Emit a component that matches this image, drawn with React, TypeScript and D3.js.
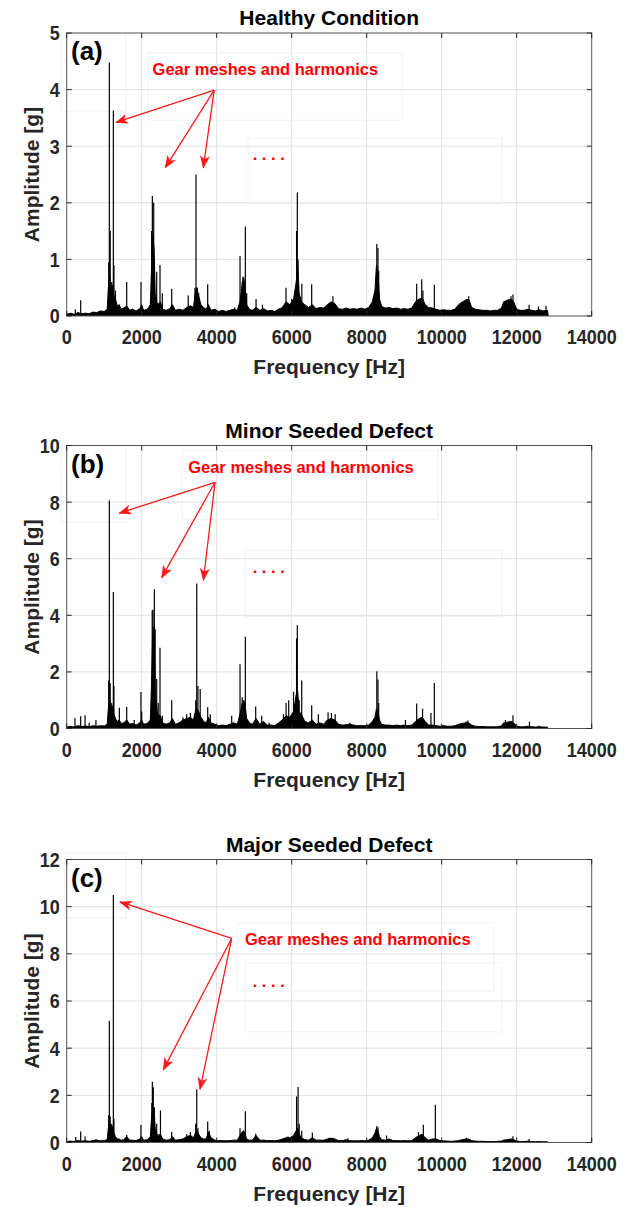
import React from 'react'
import * as d3 from 'd3'

// axes
const freqTicks = [0, 2000, 4000, 6000, 8000, 10000, 12000, 14000]
const panelTitles = ['Healthy Condition', 'Minor Seeded Defect', 'Major Seeded Defect']
const panelTags = ['(a)', '(b)', '(c)']
const ampMax = [5, 10, 12]
const ampTicks = [
	[0, 1, 2, 3, 4, 5],
	[0, 2, 4, 6, 8, 10],
	[0, 2, 4, 6, 8, 10, 12],
]

// spectrum: [frequency Hz, amplitude g]
// "floor" = the dense black base, "peaks" = the single lines above it
const healthyFloor = [
	[0, 0.03], [100, 0.05], [200, 0.03], [300, 0.06], [400, 0.04], [500, 0.05], [600, 0.04], [700, 0.07], [800, 0.06],
	[900, 0.09], [1000, 0.08], [1080, 0.12], [1110, 0.5], [1150, 0.7], [1180, 0.45], [1220, 0.55], [1260, 0.35], [1300, 0.3],
	[1350, 0.18], [1400, 0.2], [1450, 0.12], [1520, 0.14], [1600, 0.18], [1680, 0.1], [1750, 0.12], [1850, 0.09], [1950, 0.13],
	[2000, 0.2], [2050, 0.1], [2150, 0.12], [2230, 0.2], [2260, 0.8], [2290, 1.4], [2330, 1.2], [2360, 0.4], [2420, 0.2],
	[2500, 0.25], [2560, 0.12], [2650, 0.1], [2750, 0.13], [2820, 0.2], [2900, 0.1], [3000, 0.12], [3100, 0.1], [3200, 0.15],
	[3300, 0.18], [3380, 0.15], [3430, 0.4], [3470, 0.5], [3520, 0.35], [3580, 0.2], [3650, 0.15], [3720, 0.12], [3780, 0.2],
	[3850, 0.1], [3950, 0.12], [4050, 0.08], [4150, 0.1], [4250, 0.08], [4350, 0.1], [4450, 0.12], [4550, 0.1], [4620, 0.25],
	[4680, 0.55], [4720, 0.68], [4760, 0.5], [4800, 0.2], [4870, 0.12], [4950, 0.1], [5050, 0.15], [5150, 0.1], [5250, 0.13],
	[5350, 0.09], [5450, 0.1], [5550, 0.08], [5650, 0.12], [5750, 0.15], [5850, 0.25], [5950, 0.2], [6050, 0.3], [6120, 0.6],
	[6160, 0.9], [6200, 0.4], [6260, 0.25], [6350, 0.2], [6450, 0.15], [6550, 0.2], [6650, 0.13], [6750, 0.15], [6850, 0.14],
	[6950, 0.2], [7050, 0.25], [7150, 0.22], [7250, 0.13], [7350, 0.12], [7450, 0.14], [7550, 0.12], [7650, 0.13], [7750, 0.12],
	[7850, 0.14], [7950, 0.12], [8050, 0.15], [8150, 0.25], [8220, 0.45], [8260, 0.9], [8300, 0.8], [8340, 0.3], [8400, 0.17],
	[8500, 0.14], [8600, 0.15], [8700, 0.13], [8800, 0.14], [8900, 0.12], [9000, 0.13], [9100, 0.12], [9200, 0.14], [9300, 0.25],
	[9400, 0.3], [9480, 0.32], [9560, 0.2], [9650, 0.15], [9750, 0.14], [9850, 0.12], [9950, 0.1], [10050, 0.11], [10150, 0.1],
	[10250, 0.1], [10350, 0.12], [10450, 0.2], [10550, 0.25], [10650, 0.28], [10720, 0.3], [10800, 0.15], [10900, 0.12],
	[11000, 0.11], [11100, 0.1], [11200, 0.1], [11300, 0.09], [11400, 0.1], [11500, 0.1], [11600, 0.15], [11650, 0.25],
	[11750, 0.28], [11850, 0.3], [11920, 0.25], [12000, 0.12], [12100, 0.1], [12200, 0.1], [12300, 0.12], [12400, 0.1],
	[12500, 0.09], [12600, 0.11], [12700, 0.09], [12820, 0.1], [12840, 0],
]
const healthyPeaks = [
	[230, 0.12], [373, 0.28], [1120, 0.95], [1137, 4.48], [1160, 1.5], [1200, 0.6], [1244, 3.63], [1260, 0.9], [1300, 0.45],
	[1600, 0.6], [1981, 0.6], [2265, 1.5], [2284, 2.12], [2310, 1.44], [2320, 2.0], [2340, 1.0], [2400, 0.78], [2488, 0.9],
	[2550, 0.4], [2800, 0.48], [3240, 0.36], [3420, 0.5], [3448, 2.5], [3480, 0.5], [3520, 0.4], [3760, 0.56], [4480, 0.15],
	[4622, 1.06], [4680, 0.6], [4700, 0.7], [4764, 1.58], [4800, 0.4], [5050, 0.3], [5220, 0.2], [5848, 0.5], [6000, 0.3],
	[6130, 1.5], [6150, 2.18], [6170, 1.0], [6270, 0.57], [6533, 0.56], [7100, 0.35], [8270, 1.27], [8300, 1.2], [8320, 0.8],
	[9333, 0.57], [9467, 0.65], [9500, 0.45], [9803, 0.55], [10650, 0.3], [10720, 0.35], [11850, 0.35], [11900, 0.38],
	[12330, 0.2], [12580, 0.17], [12780, 0.18],
]

const minorFloor = [
	[0, 0.05], [100, 0.08], [200, 0.05], [300, 0.1], [400, 0.07], [500, 0.09], [600, 0.06], [700, 0.1], [800, 0.08],
	[900, 0.1], [1000, 0.09], [1080, 0.15], [1110, 0.7], [1150, 1.0], [1180, 0.7], [1220, 0.8], [1260, 0.5], [1300, 0.35],
	[1350, 0.25], [1400, 0.3], [1450, 0.18], [1520, 0.2], [1600, 0.3], [1680, 0.15], [1750, 0.18], [1850, 0.12], [1950, 0.2],
	[2000, 0.3], [2050, 0.15], [2150, 0.18], [2230, 0.3], [2260, 1.5], [2290, 3.2], [2330, 3.6], [2360, 1.2], [2420, 0.5],
	[2500, 0.45], [2560, 0.2], [2650, 0.15], [2750, 0.2], [2820, 0.35], [2900, 0.15], [3000, 0.2], [3100, 0.3], [3200, 0.35],
	[3300, 0.4], [3380, 0.3], [3430, 0.6], [3470, 0.7], [3520, 0.6], [3580, 0.4], [3650, 0.25], [3720, 0.2], [3780, 0.4],
	[3850, 0.2], [3950, 0.15], [4050, 0.1], [4150, 0.12], [4250, 0.1], [4350, 0.15], [4450, 0.2], [4550, 0.15], [4620, 0.5],
	[4680, 0.9], [4720, 1.0], [4760, 0.8], [4800, 0.35], [4870, 0.2], [4950, 0.15], [5050, 0.35], [5150, 0.15], [5250, 0.25],
	[5350, 0.12], [5450, 0.12], [5550, 0.1], [5650, 0.2], [5750, 0.3], [5850, 0.45], [5950, 0.4], [6050, 0.6], [6120, 1.2],
	[6160, 1.3], [6200, 0.6], [6260, 0.5], [6350, 0.25], [6450, 0.2], [6550, 0.3], [6650, 0.15], [6750, 0.2], [6850, 0.15],
	[6950, 0.3], [7050, 0.35], [7150, 0.3], [7250, 0.15], [7350, 0.12], [7450, 0.13], [7550, 0.15], [7650, 0.12], [7750, 0.1],
	[7850, 0.1], [7950, 0.1], [8050, 0.12], [8150, 0.25], [8220, 0.4], [8260, 0.7], [8300, 0.6], [8340, 0.3], [8400, 0.15],
	[8500, 0.12], [8600, 0.12], [8700, 0.1], [8800, 0.12], [8900, 0.1], [9000, 0.12], [9100, 0.1], [9200, 0.12], [9300, 0.25],
	[9400, 0.35], [9480, 0.4], [9560, 0.25], [9650, 0.12], [9750, 0.12], [9850, 0.1], [9950, 0.08], [10050, 0.1], [10150, 0.08],
	[10250, 0.08], [10350, 0.1], [10450, 0.15], [10550, 0.18], [10650, 0.2], [10720, 0.2], [10800, 0.12], [10900, 0.08],
	[11000, 0.07], [11100, 0.07], [11200, 0.06], [11300, 0.06], [11400, 0.06], [11500, 0.06], [11600, 0.1], [11650, 0.2],
	[11750, 0.22], [11850, 0.25], [11920, 0.2], [12000, 0.08], [12100, 0.06], [12200, 0.06], [12300, 0.08], [12400, 0.06],
	[12500, 0.05], [12600, 0.06], [12700, 0.05], [12820, 0.05], [12840, 0],
]
const minorPeaks = [
	[221, 0.37], [373, 0.43], [490, 0.47], [600, 0.2], [780, 0.3], [1120, 1.7], [1137, 8.06], [1160, 1.6], [1200, 0.9],
	[1244, 4.82], [1260, 1.5], [1404, 0.73], [1600, 0.76], [1800, 0.3], [1980, 1.29], [2000, 0.6], [2280, 4.18], [2300, 4.2],
	[2337, 4.92], [2360, 3.5], [2400, 1.75], [2440, 0.9], [2488, 2.85], [2550, 0.45], [2800, 1.0], [3100, 0.4], [3200, 0.5],
	[3300, 0.55], [3440, 1.0], [3467, 5.12], [3500, 1.5], [3560, 1.4], [3760, 0.75], [3830, 0.5], [4400, 0.45], [4622, 2.27],
	[4680, 1.1], [4720, 1.0], [4764, 3.24], [5040, 0.78], [5200, 0.45], [5400, 0.2], [5780, 0.5], [5850, 0.9], [5920, 1.0],
	[6050, 1.3], [6130, 3.18], [6150, 3.65], [6200, 1.0], [6267, 1.7], [6533, 0.82], [6710, 0.5], [6970, 0.57], [7060, 0.55],
	[7160, 0.5], [7550, 0.2], [8270, 2.02], [8300, 1.73], [8320, 0.9], [9033, 0.3], [9333, 0.88], [9490, 0.7], [9713, 0.55],
	[9803, 1.61], [10650, 0.25], [10700, 0.28], [11700, 0.3], [11900, 0.47], [12340, 0.25], [12600, 0.1],
]

const majorFloor = [
	[0, 0.04], [100, 0.06], [200, 0.04], [300, 0.08], [400, 0.06], [500, 0.07], [600, 0.05], [700, 0.08], [800, 0.1],
	[900, 0.07], [1000, 0.08], [1080, 0.12], [1110, 0.6], [1150, 0.8], [1180, 0.6], [1220, 0.7], [1260, 0.4], [1300, 0.25],
	[1350, 0.15], [1400, 0.15], [1450, 0.1], [1520, 0.12], [1600, 0.25], [1680, 0.1], [1750, 0.1], [1850, 0.08], [1950, 0.15],
	[2000, 0.25], [2050, 0.1], [2150, 0.12], [2230, 0.25], [2260, 1.0], [2290, 1.5], [2330, 1.4], [2360, 0.6], [2420, 0.3],
	[2500, 0.35], [2560, 0.15], [2650, 0.1], [2750, 0.12], [2820, 0.25], [2900, 0.1], [3000, 0.12], [3100, 0.15], [3200, 0.25],
	[3300, 0.3], [3380, 0.2], [3430, 0.4], [3470, 0.5], [3520, 0.35], [3580, 0.2], [3650, 0.15], [3720, 0.15], [3780, 0.45],
	[3850, 0.2], [3950, 0.1], [4050, 0.08], [4150, 0.08], [4250, 0.07], [4350, 0.08], [4450, 0.1], [4550, 0.1], [4620, 0.3],
	[4680, 0.45], [4720, 0.5], [4760, 0.35], [4800, 0.15], [4870, 0.1], [4950, 0.1], [5050, 0.3], [5150, 0.1], [5250, 0.1],
	[5350, 0.08], [5450, 0.08], [5550, 0.07], [5650, 0.1], [5750, 0.15], [5850, 0.2], [5950, 0.2], [6050, 0.3], [6120, 0.5],
	[6160, 0.6], [6200, 0.35], [6260, 0.2], [6350, 0.12], [6450, 0.1], [6550, 0.2], [6650, 0.1], [6750, 0.1], [6850, 0.1],
	[6950, 0.15], [7050, 0.18], [7150, 0.15], [7250, 0.08], [7350, 0.08], [7450, 0.12], [7550, 0.08], [7650, 0.07], [7750, 0.07],
	[7850, 0.08], [7950, 0.07], [8050, 0.1], [8150, 0.2], [8220, 0.4], [8260, 0.6], [8300, 0.5], [8340, 0.25], [8400, 0.12],
	[8500, 0.1], [8600, 0.15], [8700, 0.08], [8800, 0.08], [8900, 0.07], [9000, 0.08], [9100, 0.07], [9200, 0.08], [9300, 0.2],
	[9400, 0.3], [9480, 0.35], [9560, 0.2], [9650, 0.1], [9750, 0.15], [9850, 0.15], [9950, 0.08], [10050, 0.07], [10150, 0.06],
	[10250, 0.05], [10350, 0.06], [10450, 0.08], [10550, 0.12], [10650, 0.15], [10720, 0.15], [10800, 0.08], [10900, 0.06],
	[11000, 0.05], [11100, 0.05], [11200, 0.04], [11300, 0.04], [11400, 0.04], [11500, 0.05], [11600, 0.06], [11650, 0.1],
	[11750, 0.12], [11850, 0.15], [11920, 0.12], [12000, 0.06], [12100, 0.04], [12200, 0.04], [12300, 0.06], [12400, 0.04],
	[12500, 0.03], [12600, 0.04], [12700, 0.03], [12820, 0.03], [12840, 0],
]
const majorPeaks = [
	[240, 0.23], [373, 0.47], [490, 0.25], [780, 0.15], [1120, 1.17], [1137, 5.16], [1160, 1.1], [1200, 0.8], [1244, 10.5],
	[1260, 1.0], [1600, 0.33], [1980, 0.75], [2270, 1.67], [2284, 2.58], [2310, 2.34], [2340, 1.5], [2400, 0.8], [2500, 1.36],
	[2800, 0.45], [3200, 0.35], [3300, 0.45], [3440, 0.8], [3467, 2.26], [3500, 0.6], [3760, 0.89], [3800, 0.5], [4622, 0.6],
	[4700, 0.4], [4764, 1.32], [5040, 0.37], [5900, 0.25], [6130, 1.95], [6170, 2.35], [6200, 0.8], [6267, 0.5], [6550, 0.42],
	[7000, 0.2], [7100, 0.2], [7500, 0.18], [8270, 0.7], [8300, 0.65], [8530, 0.3], [9380, 0.45], [9510, 0.75], [9830, 1.6],
	[10660, 0.2], [11900, 0.27], [12330, 0.15],
]

const floors = [healthyFloor, minorFloor, majorFloor]
const peaks = [healthyPeaks, minorPeaks, majorPeaks]

// annotations, in data units of each panel
const noteLabel = 'Gear meshes and harmonics'
const noteAt = [[2290, 4.36], [3240, 9.25], [4755, 8.62]]
const arrowFrom = [[3933, 3.99], [3955, 8.7], [4400, 8.66]]
const arrowTo = [
	[[1315, 3.42], [2629, 2.62], [3643, 2.62]],
	[[1403, 7.61], [2533, 5.33], [3645, 5.24]],
	[[1421, 10.2], [2576, 3.08], [3555, 2.26]],
]
const dotsAt = [[4960, 2.79], [4960, 5.55], [4960, 6.68]]
// faint text-box outlines left in the figure: [f0, a0, f1, a1]
const ghostBoxes = [
	[[-150, 5, 1580, 3.62], [2168, 4.65, 8941, 3.46], [4835, 3.14, 11608, 1.98]],
	[[-150, 10, 1580, 7.3], [3080, 9.82, 9904, 7.39], [4755, 6.29, 11608, 3.96]],
	[[-45, 12.27, 1580, 9.52], [4541, 9.31, 11395, 6.43], [4755, 7.61, 11608, 4.69]],
]

const W = 635
const H = 1207
const left = 66.7
const right = 591.7
const plotH = 283
const tops = [33, 445.5, 859.5]
const font = '"Liberation Sans", Arial, Helvetica, sans-serif'
const ink = '#262626'

const Panel = ({i}: {i: number}) => {
	const top = tops[i]
	const bottom = top + plotH
	const x = d3.scaleLinear().domain([0, 14000]).range([left, right])
	const y = d3.scaleLinear().domain([0, ampMax[i]]).range([bottom, top])
	const area = d3.area<number[]>()
		.x(d => x(d[0]))
		.y0(y(0))
		.y1(d => y(d[1]))
	const mid = (left + right) / 2

	return (
		<g>
			<defs>
				<clipPath id={`clip${i}`}>
					<rect x={left} y={top} width={right - left} height={plotH} />
				</clipPath>
			</defs>
			<rect x={left} y={top} width={right - left} height={plotH} fill="#fff" />

			{/* grid */}
			{freqTicks.slice(1, -1).map(t => (
				<line key={'gx' + t} x1={x(t)} x2={x(t)} y1={top} y2={bottom} stroke="#dedede" strokeWidth={0.9} />
			))}
			{ampTicks[i].slice(1, -1).map(t => (
				<line key={'gy' + t} x1={left} x2={right} y1={y(t)} y2={y(t)} stroke="#dedede" strokeWidth={0.9} />
			))}

			{/* leftover annotation boxes */}
			{ghostBoxes[i].map((b, k) => (
				<rect key={'gb' + k} x={x(b[0])} y={y(b[1])} width={x(b[2]) - x(b[0])} height={y(b[3]) - y(b[1])}
					fill="none" stroke="#f1f1f1" strokeWidth={1} />
			))}

			{/* spectrum */}
			<g clipPath={`url(#clip${i})`}>
				<path d={area(floors[i]) || ''} fill="#000" stroke="#000" strokeWidth={1} strokeLinejoin="round" />
				{peaks[i].map((p, k) => (
					<line key={'p' + k} x1={x(p[0])} x2={x(p[0])} y1={y(0)} y2={y(p[1])} stroke="#000" strokeWidth={1.2} />
				))}
			</g>

			{/* frame + inner ticks */}
			<rect x={left} y={top} width={right - left} height={plotH} fill="none" stroke="#555" strokeWidth={1} />
			{freqTicks.map(t => (
				<g key={'tx' + t} stroke={ink} strokeWidth={1}>
					<line x1={x(t)} x2={x(t)} y1={bottom} y2={bottom - 5} />
					<line x1={x(t)} x2={x(t)} y1={top} y2={top + 5} />
				</g>
			))}
			{ampTicks[i].map(t => (
				<g key={'ty' + t} stroke={ink} strokeWidth={1}>
					<line x1={left} x2={left + 5} y1={y(t)} y2={y(t)} />
					<line x1={right} x2={right - 5} y1={y(t)} y2={y(t)} />
				</g>
			))}

			{/* tick labels */}
			{freqTicks.map(t => (
				<text key={'lx' + t} transform={`translate(${x(t)},${bottom + 28}) scale(1,1.15)`} textAnchor="middle"
					fontSize={18} fontWeight="bold" fill={ink}>{t}</text>
			))}
			{ampTicks[i].map(t => (
				<text key={'ly' + t} transform={`translate(${left - 7},${y(t) + 7.4}) scale(1,1.15)`} textAnchor="end"
					fontSize={18} fontWeight="bold" fill={ink}>{t}</text>
			))}

			{/* titles */}
			<text x={mid} y={top - 8} textAnchor="middle" fontSize={21} fontWeight="bold" fill="#000">{panelTitles[i]}</text>
			<text x={mid} y={bottom + 58} textAnchor="middle" fontSize={21} fontWeight="bold" fill={ink}>Frequency [Hz]</text>
			<text transform={`translate(39,${top + plotH / 2}) rotate(-90)`} textAnchor="middle" fontSize={21}
				fontWeight="bold" fill={ink}>Amplitude [g]</text>
			<text x={71} y={top + 27} fontSize={26} fontWeight="bold" fill="#000">{panelTags[i]}</text>

			{/* annotation */}
			<text x={x(noteAt[i][0])} y={y(noteAt[i][1]) + 6} fontSize={16.5} fontWeight="bold" fill="#ff0000">{noteLabel}</text>
			{arrowTo[i].map((d, k) => (
				<line key={'ar' + k} x1={x(arrowFrom[i][0])} y1={y(arrowFrom[i][1])} x2={x(d[0])} y2={y(d[1])}
					stroke="#ff1a1a" strokeWidth={1.3} markerEnd="url(#head)" />
			))}
			<text x={x(dotsAt[i][0])} y={y(dotsAt[i][1]) + 2} fontSize={16.5} fontWeight="bold" fill="#ff0000">. . . .</text>
		</g>
	)
}

const App = () => {
	return (
		<svg width={W} height={H} viewBox={`0 0 ${W} ${H}`}
			style={{position: 'absolute', left: 0, top: 0, background: '#fff', fontFamily: font}}>
			<defs>
				<marker id="head" viewBox="0 0 13 10" refX={12} refY={5} markerWidth={13} markerHeight={10}
					orient="auto" markerUnits="userSpaceOnUse">
					<path d="M0,0 L13,5 L0,10 L3.5,5 Z" fill="#ff1a1a" />
				</marker>
			</defs>
			<rect width={W} height={H} fill="#fff" />
			{[0, 1, 2].map(i => <Panel key={i} i={i} />)}
		</svg>
	)
}

export default App
